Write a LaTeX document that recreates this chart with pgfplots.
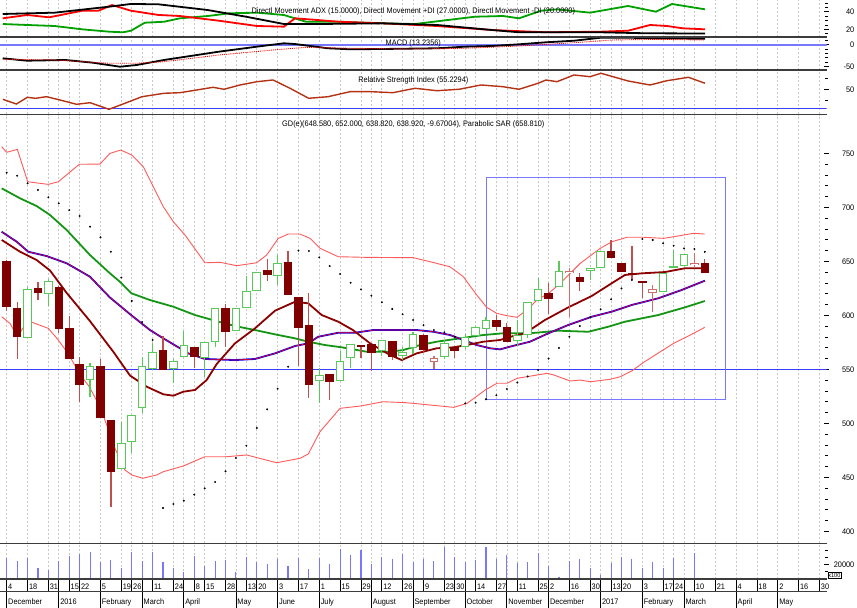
\documentclass[border=0pt]{standalone}
\usepackage{pgfplots}
\pgfplotsset{compat=1.18}
\usepackage{pgfplotstable}
\usepackage{fontspec}
\setmainfont{Liberation Sans}[FakeStretch=0.92]
\newcommand\tf{\fontsize{8bp}{9.6bp}\selectfont}
\definecolor{downc}{RGB}{128,0,0}
\definecolor{wickd}{RGB}{190,80,80}
\definecolor{upc}{RGB}{90,200,90}
\definecolor{pinkc}{RGB}{205,110,110}
\definecolor{bbc}{RGB}{255,90,90}
\definecolor{maline}{RGB}{140,0,0}
\definecolor{gline}{RGB}{20,150,20}
\definecolor{gridc}{RGB}{200,200,200}
\definecolor{sepc}{RGB}{60,60,60}
\definecolor{volc}{RGB}{120,120,255}
\definecolor{bluel}{RGB}{60,60,255}
\definecolor{lav}{RGB}{120,120,255}
\definecolor{rsic}{RGB}{180,50,20}
\definecolor{adxg}{RGB}{0,160,0}

\pgfplotstableread{
i O H L C
0 650.6 651.0 604.3 608.0
1 606.5 612.6 559.3 579.6
3 625.6 631.1 614.2 620.9
5 625.9 627.5 583.3 587.0
6 588.0 599.4 559.5 559.5
7 554.9 561.1 520.0 535.5
9 553.4 559.3 505.2 505.2
10 503.0 503.0 422.8 455.2
15 567.9 580.8 549.4 549.4
18 570.4 570.4 551.5 561.1
21 606.8 610.5 570.9 584.3
25 642.2 651.9 632.0 637.6
27 649.4 659.8 619.1 619.1
28 616.7 616.7 553.1 588.0
29 591.0 620.9 523.1 535.5
31 545.6 545.6 521.6 538.0
34 572.2 573.0 560.2 571.0
35 573.1 573.1 548.7 565.4
37 576.5 576.5 558.6 561.7
40 581.8 583.0 564.8 567.9
43 571.0 571.0 560.2 567.3
47 595.7 600.3 585.5 589.5
48 588.9 592.6 575.3 575.3
52 620.9 630.2 601.2 615.1
55 635.2 638.9 622.8 630.8
58 659.8 669.7 652.8 652.8
59 648.7 648.7 640.1 640.1
60 639.4 664.2 632.7 637.9
61 631.8 631.8 615.7 630.2
67 648.58 652.0 638.82 638.92
}\downt

\pgfplotstableread{
i O H L C
2 578.7 626.6 578.7 624.1
4 619.4 634.0 608.9 632.0
8 540.1 556.0 524.6 553.4
11 457.4 501.5 457.4 481.5
12 483.0 508.0 472.8 508.0
13 514.5 561.1 509.8 553.4
14 550.0 574.0 549.0 566.3
16 550.0 560.0 537.0 558.0
17 561.1 585.8 561.1 572.2
19 560.2 575.0 543.2 575.0
20 575.0 606.8 570.9 606.8
22 585.8 606.8 585.8 606.8
23 606.8 636.4 606.8 622.8
24 622.2 640.1 622.2 640.1
26 636.4 656.1 627.8 648.7
30 538.9 551.5 518.5 545.0
32 538.9 567.0 538.9 558.0
33 560.2 573.1 551.5 573.1
36 567.3 577.1 562.3 577.1
38 562.3 571.0 558.6 565.7
39 569.7 584.8 564.0 582.7
42 561.7 577.1 560.0 574.1
44 571.0 583.0 569.0 580.2
45 580.8 590.0 580.8 589.5
46 587.0 598.2 587.0 595.7
49 576.0 596.0 572.0 582.0
50 581.8 612.6 578.7 612.6
51 613.5 634.3 613.5 624.1
53 625.9 650.6 625.9 641.0
56 641.0 644.1 632.7 644.1
57 643.5 659.8 643.5 659.8
63 621.9 639.5 621.9 639.5
64 644.4 660.5 644.4 645.7
65 645.7 656.5 645.7 656.5
}\upt

\pgfplotstableread{
i O H L C
41 557.0 562.0 550.0 560.2
54 638.9 643.5 598.2 641.0
62 620.9 628.1 603.3 624.4
66 646.3 657.4 644.0 648.7
}\pinkt

\pgfplotstableread{
i v
-0.48 756.2
0 751.0
1.02 753.7
2.02 723.7
3.99 721.3
4.95 723.7
6.97 739.9
8.95 740.1
9.91 750.0
10.94 753.1
12.0 748.5
13.11 737.6
15.03 700.6
15.99 686.7
17.11 674.4
19.03 648.7
20.47 649.1
22.07 646.0
23.99 648.7
24.95 655.9
26.07 671.3
27.03 675.3
28.15 675.3
29.11 671.3
30.07 662.1
31.82 654.3
34.55 653.7
39.02 653.4
40.62 649.7
42.54 645.0
43.82 635.8
45.11 618.8
46.07 607.4
47.02 601.9
47.98 599.7
48.97 598.2
49.93 604.9
50.89 614.2
52.01 620.4
53.13 629.7
55.05 648.2
56.97 662.1
58.09 668.2
59.53 672.3
61.13 672.3
63.05 671.3
64.97 674.4
65.93 676.0
66.99 675.3
}\bbup

\pgfplotstableread{
i v
-0.48 598.7
0.32 592.6
1.02 580.2
2.02 595.0
3.99 588.0
4.95 577.2
5.98 563.3
6.97 546.3
7.93 533.9
8.95 515.4
9.6 498.5
10.39 476.9
11.35 456.8
12.0 452.2
13.05 449.1
14.4 452.2
15.03 455.2
16.95 460.5
19.03 469.1
21.11 469.1
23.03 470.7
25.91 463.5
28.15 467.6
28.94 471.6
30.07 492.3
31.99 513.9
33.91 516.0
36.14 520.0
38.39 519.1
40.62 517.0
42.9 514.8
44.18 518.5
45.93 530.9
47.05 537.1
48.01 537.1
48.97 541.7
49.93 543.2
51.85 546.3
52.5 544.8
54.09 539.2
55.05 540.1
56.01 538.5
57.93 540.8
58.89 543.2
60.01 548.7
61.13 556.5
62.73 566.3
64.01 574.1
65.61 581.8
66.99 588.9
}\bblo

\pgfplotstableread{
i v
-0.48 677.4
0.96 668.2
2.07 658.9
3.84 654.9
5.76 648.2
7.99 635.8
9.91 616.5
12.0 599.8
13.75 586.4
15.03 578.7
16.63 569.5
17.43 564.8
19.03 559.6
21.91 558.6
23.83 559.6
25.75 564.8
27.67 571.6
28.94 574.1
29.9 580.2
31.82 583.9
33.43 583.9
35.18 586.4
39.35 586.4
40.94 584.8
42.54 581.8
43.82 577.2
45.11 572.5
46.39 569.5
47.35 568.5
48.3 571.0
50.22 575.6
51.98 583.4
53.9 591.1
56.14 598.7
58.06 603.4
59.98 609.6
62.53 615.8
64.78 623.5
67.01 632.1
}\midt

\pgfplotstableread{
i v
-0.48 669.8
1.28 658.9
2.88 651.2
4.16 641.5
5.76 620.7
7.99 594.7
10.23 566.3
11.83 544.3
13.44 533.9
15.03 526.9
15.99 525.6
16.95 529.3
18.07 530.9
19.19 540.1
20.15 554.9
21.91 574.1
23.83 588.0
25.75 604.3
27.67 612.6
28.94 611.1
30.23 600.3
31.82 594.1
33.23 586.4
34.87 574.1
36.79 563.3
37.91 558.6
39.35 564.8
41.27 569.5
42.86 570.4
44.15 572.5
45.74 575.6
47.35 577.2
48.63 580.9
49.74 583.4
51.66 595.7
53.9 607.4
56.14 617.9
58.06 629.7
59.33 637.4
60.94 638.9
63.17 640.1
65.09 643.6
67.01 643.6
}\mat

\pgfplotstableread{
i v
-0.48 717.6
1.28 708.4
2.88 701.2
4.16 692.9
5.76 679.0
7.99 655.9
9.91 638.9
10.87 631.1
11.98 620.4
13.75 614.2
15.99 608.0
18.07 600.3
20.0 595.0
21.91 590.1
23.83 586.4
25.75 582.4
27.67 578.7
28.94 575.6
30.55 572.5
32.15 570.4
34.55 566.3
36.79 566.3
38.06 567.9
39.67 572.5
41.27 575.6
43.5 578.7
45.74 581.8
47.66 583.4
50.22 583.4
52.94 585.8
55.82 584.8
57.74 589.5
59.33 594.1
62.53 600.3
65.09 607.4
67.01 613.3
}\gmat

\pgfplotstableread{
i v
0 732.1
1 729.3
2 722.3
3 716.1
4 709.3
5 703.7
6 697.5
7 692.0
8 682.1
9 672.3
10 658.9
11 635.0
12 613.3
13 593.8
14 577.2
15 421.6
16 425.3
17 428.4
18 433.9
19 439.8
20 445.7
21 455.6
22 467.9
23 479.3
24 495.7
25 513.0
26 532.1
27 552.4
28 659.9
29 659.6
30 653.7
31 645.7
32 638.3
33 630.2
34 624.1
35 618.2
36 612.1
37 605.9
38 601.0
39 595.7
40 591.0
41 586.4
42 584.3
43 580.2
44 518.5
45 519.1
46 522.3
47 526.0
48 531.8
49 537.8
50 543.4
51 549.4
52 560.0
53 569.8
54 580.2
55 590.1
56 598.2
57 605.6
58 614.9
59 625.0
60 632.7
61 670.7
62 669.8
63 666.7
64 664.5
65 662.1
66 661.4
67 658.8
}\sart

\pgfplotstableread{
i v
0 28545
1 25236
2 28545
3 15583
4 12411
5 25236
6 32131
7 34061
8 37647
9 23029
10 26201
11 15583
12 36819
13 25236
14 36819
15 23029
16 15583
17 9239
18 32131
19 18341
20 25236
21 26201
22 10067
23 29924
24 23857
25 20685
26 27580
27 18341
28 28545
29 13376
30 28545
31 20685
32 41370
33 33096
34 40405
35 20685
36 29924
37 27580
38 34475
39 23029
40 27166
41 25236
42 44542
43 29924
44 23857
45 26201
46 44542
47 27580
48 33096
49 22478
50 23029
51 35440
52 18341
53 2758
54 25236
55 27580
56 14755
57 5516
58 21650
59 29924
60 27580
61 15583
62 23857
63 15583
64 28545
66 35440
}\volt

\pgfplotstableread{
i v
-0.38 37.4
4.6 38.9
9.82 45.7
11.93 48.8
14.57 48.4
19.29 41.9
22.97 34.3
26.61 26.0
29.78 26.0
36.07 26.8
41.3 24.9
46.57 19.2
49.17 16.6
57.04 16.6
61.26 15.5
67.02 15.2
}\adxk

\pgfplotstableread{
i v
-0.38 32.5
1.98 36.3
4.06 33.6
7.23 41.1
8.8 41.1
10.11 47.6
11.93 41.1
14.57 36.3
16.63 35.1
20.34 29.8
24.02 23.75
26.61 23.0
27.67 32.5
29.78 30.6
31.89 28.6
36.07 26.8
41.3 23.75
46.57 19.2
51.76 16.6
57.04 17.3
59.63 18.4
61.74 24.9
63.37 23.75
64.9 21.1
67.02 20.0
}\adxr

\pgfplotstableread{
i v
-0.38 26.0
1.98 24.9
4.6 23.75
7.23 20.0
9.82 17.3
11.16 16.6
11.93 18.4
13.25 27.5
15.1 28.6
16.63 32.5
19.29 35.1
21.38 38.2
24.02 38.9
26.61 36.25
28.72 28.6
31.89 28.6
36.07 26.8
39.18 26.0
42.35 30.6
44.94 34.3
47.63 35.1
49.17 32.5
51.28 41.1
52.81 42.7
55.98 38.9
59.63 46.5
62.31 40.0
63.85 48.75
67.02 42.7
}\adxg

\pgfplotstableread{
i v
-0.38 -31.4
1.95 -36.8
5.65 -35.2
8.28 -41.4
10.87 -50.5
12.47 -46.6
15.1 -35.2
20.34 -16.4
24.5 -3.4
26.61 2.7
27.67 1.1
30.84 -8.6
32.95 -10.9
36.07 -10.2
41.3 -8.6
43.94 -5.0
46.57 -3.4
49.17 0.45
51.76 5.0
54.44 8.6
57.04 15.5
59.63 15.5
62.31 13.8
67.02 13.2
}\macdk

\pgfplotstableread{
i v
-0.38 -33.6
4.6 -35.2
9.82 -42.7
12.47 -42.7
15.1 -39.1
20.34 -23.9
25.56 -12.5
28.72 -6.4
32.95 -8.6
38.7 -10.2
43.94 -8.6
49.17 -3.4
54.44 4.1
58.09 10.2
62.31 11.8
67.02 10.2
}\macds

\pgfplotstableread{
i v
-0.38 32.2
0.93 23.6
1.98 35.8
2.76 34.0
3.81 36.9
5.12 30.9
6.7 23.1
8.0 26.0
9.82 14.0
11.16 23.6
12.98 36.9
15.1 43.1
16.63 44.2
18.23 49.1
19.8 54.0
20.85 50.4
22.39 58.2
24.02 64.2
25.56 67.3
27.19 52.2
28.98 34.0
30.84 36.9
32.95 46.0
35.02 46.0
37.07 44.2
39.18 52.2
41.3 47.8
43.41 50.4
45.52 58.2
47.63 55.1
49.17 50.4
50.99 61.3
51.76 67.3
52.81 64.2
54.44 76.4
55.98 73.3
57.04 79.5
59.63 65.5
61.74 58.2
63.37 66.0
65.43 72.2
67.02 61.3
}\rsit

\pgfplotsset{
  panel/.style={
    scale only axis, width=826.7bp,
    xmin=-0.643, xmax=78.695,
    axis line style={draw=none},
    xtick={0,2,4,5,6,7,9,11,12,13,14,16,17,18,19,21,22,23,24,26,28,30,32,34,35,36,38,39,40,42,43,44,45,47,48,49,51,52,54,56,57,58,59,61,63,64,65,66,68,70,72,74,76,78},
    xticklabels={}, xmajorgrids=true,
    grid style={gridc, line width=0.7bp, dash pattern=on 2bp off 2bp},
    x tick style={draw=none},
    ytick pos=right, yticklabel pos=right,
    tick align=center,
    major tick length=5bp, minor tick length=3bp,
    y tick style={black, line width=0.7bp},
    yticklabel style={font=\tf, anchor=east, inner sep=0pt, xshift=25.3bp},
    /pgf/number format/assume math mode=true,
    /pgf/number format/1000 sep={},
    scaled y ticks=false,
    anchor=north west,
  },
  row/.style={
    scale only axis, width=826.7bp,
    xmin=-0.643, xmax=78.695, ymin=0, ymax=1,
    axis line style={draw=none}, ytick=\empty,
    xmajorgrids=true, grid style={black, line width=0.8bp, solid},
    major tick length=0pt,
    xticklabel style={font=\tf, anchor=base west, inner sep=0pt, xshift=1.3bp},
    anchor=north west,
  },
  wick/.style={forget plot, draw=none, mark=none,
    error bars/.cd, y dir=both, y explicit, error mark=none,
    error bar style={draw=#1, line width=1.2bp, solid}},
  body/.style 2 args={forget plot, draw=none, mark=none,
    error bars/.cd, y dir=both, y explicit, error mark=none,
    error bar style={draw=#1, line width=#2, solid}},
}

\begin{document}
\begin{tikzpicture}
\useasboundingbox (0bp,0bp) rectangle (857bp,-608bp);

% ADX panel
\begin{axis}[panel, name=adx, at={(0bp,0bp)}, height=37bp,
  ymin=11.25, ymax=53.3, ytick={20,40}, minor ytick={15,25,30,35,45,50}]
\addplot[adxg, line width=1.8bp] table[x=i,y=v] \adxg;
\addplot[red, line width=1.8bp] table[x=i,y=v] \adxr;
\addplot[black, line width=1.8bp] table[x=i,y=v] \adxk;
\end{axis}
\node[font=\tf, inner sep=0pt] at ([yshift=-11.7bp]adx.north) {Directl Movement ADX (15.0000), Directl Movement +DI (27.0000), Directl Movement -DI (20.0000)};

% MACD panel
\begin{axis}[panel, name=macd, at={(0bp,-37bp)}, height=33bp,
  ymin=-57.95, ymax=17.05, ytick={-50,0}, minor ytick={-40,-30,-20,-10,10}]
\addplot[lav, line width=2bp] coordinates {(-0.643,0) (78.695,0)};
\addplot[black, line width=1.8bp] table[x=i,y=v] \macdk;
\addplot[red, line width=0.9bp, densely dotted] table[x=i,y=v] \macds;
\end{axis}
\node[font=\tf, inner sep=0pt] at ([yshift=-6.3bp]macd.north) {MACD (13.2356)};

% RSI panel
\begin{axis}[panel, name=rsi, at={(0bp,-70bp)}, height=44.5bp,
  ymin=4.55, ymax=85.45, ytick={50}, minor ytick={30,70}]
\addplot[bluel, line width=1.3bp] coordinates {(-0.643,15.8) (78.695,15.8)};
\addplot[rsic, line width=1.4bp] table[x=i,y=v] \rsit;
\end{axis}
\node[font=\tf, inner sep=0pt] at ([yshift=-10bp]rsi.north) {Relative Strength Index (55.2294)};

% Price panel
\begin{axis}[panel, name=price, at={(0bp,-114.5bp)}, height=428.8bp,
  ymin=388.9, ymax=786.0, ytick={400,450,...,750}, minor y tick num=4]
\addplot[bluel, line width=1.1bp, forget plot] coordinates {(-0.643,549.5) (78.695,549.5)};
\addplot[lav, line width=1bp, forget plot] coordinates {(46.03,727.4) (68.95,727.4) (68.95,522.2) (46.03,522.2) (46.03,727.4)};
\addplot[bbc, line width=0.9bp] table[x=i,y=v] \bbup;
\addplot[bbc, line width=0.9bp] table[x=i,y=v] \bblo;
\addplot[gline, line width=1.8bp] table[x=i,y=v] \gmat;
\addplot[blue, line width=1.8bp] table[x=i,y=v] \midt;
\addplot[red, line width=0.6bp] table[x=i,y=v] \midt;
\addplot[maline, line width=1.8bp] table[x=i,y=v] \mat;
% wicks
\addplot[wick=wickd] table[x=i, y expr={(\thisrow{H}+\thisrow{L})/2}, y error expr={(\thisrow{H}-\thisrow{L})/2}] \downt;
\addplot[wick=upc] table[x=i, y expr={(\thisrow{H}+\thisrow{L})/2}, y error expr={(\thisrow{H}-\thisrow{L})/2}] \upt;
\addplot[wick=pinkc] table[x=i, y expr={(\thisrow{H}+\thisrow{L})/2}, y error expr={(\thisrow{H}-\thisrow{L})/2}] \pinkt;
% bodies
\addplot[body={downc}{8.6bp}] table[x=i, y expr={(\thisrow{O}+\thisrow{C})/2}, y error expr={max(abs(\thisrow{C}-\thisrow{O})/2,0.6)}] \downt;
\addplot[body={upc}{8.6bp}] table[x=i, y expr={(\thisrow{O}+\thisrow{C})/2}, y error expr={max(abs(\thisrow{C}-\thisrow{O})/2,0.6)}] \upt;
\addplot[body={white}{6.6bp}] table[x=i, y expr={(\thisrow{O}+\thisrow{C})/2}, y error expr={max(abs(\thisrow{C}-\thisrow{O})/2-0.93,0)}] \upt;
\addplot[body={pinkc}{8.6bp}] table[x=i, y expr={(\thisrow{O}+\thisrow{C})/2}, y error expr={max(abs(\thisrow{C}-\thisrow{O})/2,0.6)}] \pinkt;
\addplot[body={white}{6.6bp}] table[x=i, y expr={(\thisrow{O}+\thisrow{C})/2}, y error expr={max(abs(\thisrow{C}-\thisrow{O})/2-0.93,0)}] \pinkt;
% SAR
\addplot[only marks, mark=*, mark size=0.75bp, black] table[x=i,y=v] \sart;
\end{axis}
\node[font=\tf, inner sep=0pt] at ([yshift=-9.5bp]price.north) {GD(e)(648.580, 652.000, 638.820, 638.920, -9.67004), Parabolic SAR (658.810)};

% Volume panel
\begin{axis}[panel, name=vol, at={(0bp,-543.3bp)}, height=35.7bp,
  ymin=0, ymax=49230, ytick={20000}, minor ytick={10000,30000,40000}]
\addplot[ycomb, volc, line width=1.1bp] table[x=i,y=v] \volt;
\end{axis}
\node[font=\fontsize{6bp}{7bp}\selectfont, anchor=south west, inner sep=0.5pt, draw=black, line width=0.4bp] at ([xshift=1bp, yshift=1bp]vol.south east) {x100};

% day row
\begin{axis}[row, name=dayrow, at={(0bp,-579bp)}, height=12.7bp,
  xtick={0,2,4,6,7,9,11,12,14,16,18,19,21,23,24,26,28,30,32,34,36,38,40,42,43,45,47,49,51,52,54,56,58,59,61,63,64,66,68,70,72,74,76,78},
  xticklabels={4,18,31,15,22,5,19,26,11,24,8,15,28,13,20,3,17,1,15,29,12,26,9,23,30,14,27,11,25,2,16,30,13,20,3,17,24,10,21,4,18,2,16,30},
  extra x ticks={5,13,17,22,35,39,44,48,57,65}, extra x tick labels={},
  extra x tick style={grid=major},
  xticklabel style={yshift=2.7bp}]
\addplot[draw=none] coordinates {(0,0.5)};
\end{axis}

% month row
\begin{axis}[row, name=monthrow, at={(0bp,-591.7bp)}, height=16.3bp,
  xtick={0,5,9,13,17,22,26,30,35,39,44,48,52,57,61,65,70,74},
  xticklabels={December,2016,February,March,April,May,June,July,August,September,October,November,December,2017,February,March,April,May},
  xticklabel style={yshift=4bp}]
\addplot[draw=none] coordinates {(0,0.5)};
\end{axis}

% separators
\foreach \yy in {37,70,114.5,543.3,579,591.7}{
  \draw[sepc, line width=1.3bp] (0bp,-\yy bp) -- (826.7bp,-\yy bp);
}
\end{tikzpicture}
\end{document}
